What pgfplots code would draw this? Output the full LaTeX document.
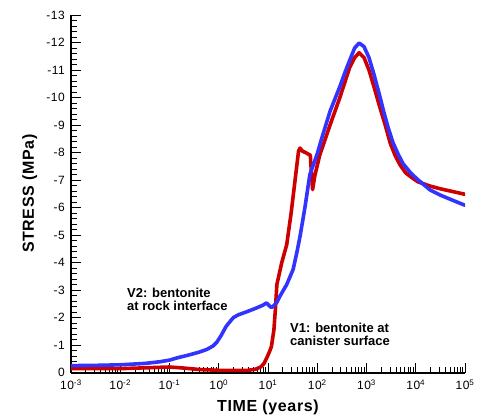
\documentclass[border=0pt]{standalone}
\usepackage{fontspec}
\setmainfont{Liberation Sans}[LetterSpace=4]
\newfontfamily\annofont{Liberation Sans}
\usepackage{pgfplots}
\pgfplotsset{compat=1.18}
\usepackage{pgfplotstable}

\definecolor{canisterred}{RGB}{204,0,0}
\definecolor{rockblue}{RGB}{51,51,255}

% V1: bentonite at canister surface (time in years, stress in MPa)
\pgfplotstableread{
t        stress
0.001    -0.14
0.00316  -0.14
0.01     -0.14
0.0316   -0.17
0.1      -0.20
0.2      -0.16
0.398    -0.11
1        -0.08
3.98     -0.08
5.62     -0.12
7.08     -0.20
8.32     -0.33
9.55     -0.55
10.96    -0.80
11.75    -0.95
13.18    -1.55
14.13    -2.30
15.14    -3.20
19.05    -4.00
23.99    -4.65
29.5     -5.80
35.5     -7.00
41.7     -8.05
44.7     -8.16
50.1     -8.05
60.3     -7.98
72.4     -7.90
75.9     -7.30
80.4     -6.65
89.1     -7.15
112.2    -7.90
182      -9.00
288      -10.00
363      -10.55
457      -11.10
575      -11.45
708      -11.63
891      -11.45
1122     -11.00
1413     -10.40
1862     -9.65
2399     -9.00
3020     -8.35
3802     -7.90
4786     -7.55
6310     -7.25
8913     -7.05
11220    -6.93
19498    -6.78
31623    -6.68
50119    -6.60
100000   -6.48
}\canister

% V2: bentonite at rock interface
\pgfplotstableread{
t        stress
0.001    -0.25
0.00316  -0.26
0.01     -0.28
0.0316   -0.33
0.0631   -0.39
0.1      -0.45
0.141    -0.53
0.251    -0.64
0.398    -0.74
0.575    -0.84
0.759    -0.96
0.912    -1.10
1.122    -1.35
1.413    -1.68
1.82     -1.92
1.995    -2.00
2.512    -2.10
3.72     -2.21
5.89     -2.35
7.94     -2.45
9.33     -2.53
10.7     -2.42
11.75    -2.36
13.5     -2.45
15.1     -2.55
17.8     -2.80
24.0     -3.20
32.4     -3.75
38.9     -4.40
44.7     -4.95
56.2     -6.00
70.8     -7.20
79.4     -7.45
100      -7.95
120.2    -8.45
182      -9.50
288      -10.40
363      -10.90
457      -11.36
575      -11.80
708      -11.98
891      -11.85
1122     -11.45
1413     -10.85
1862     -10.05
2188     -9.55
2754     -8.90
3467     -8.35
4365     -7.95
5495     -7.60
7943     -7.25
11220    -7.00
14125    -6.85
19498    -6.64
31623    -6.45
50119    -6.30
100000   -6.08
}\rockinterface

\begin{document}
\begin{tikzpicture}
\begin{axis}[
  scale only axis,
  width=394pt, height=357.5pt,
  xmode=log, log basis x=10,
  xmin=1e-3, xmax=1e5,
  ymin=-13, ymax=0,
  y dir=reverse,
  axis x line*=bottom,
  axis y line*=left,
  axis line style={black, line width=2pt, -},
  tick align=inside,
  major tick length=10pt,
  minor tick length=6pt,
  tick style={black, line width=1pt},
  xtick={1e-3,1e-2,1e-1,1,1e1,1e2,1e3,1e4,1e5},
  xticklabels={10\textsuperscript{-3},10\textsuperscript{-2},10\textsuperscript{-1},10\textsuperscript{0},10\textsuperscript{1},10\textsuperscript{2},10\textsuperscript{3},10\textsuperscript{4},10\textsuperscript{5}},
  minor xtick={2e-3,3e-3,4e-3,5e-3,6e-3,7e-3,8e-3,9e-3,
               2e-2,3e-2,4e-2,5e-2,6e-2,7e-2,8e-2,9e-2,
               2e-1,3e-1,4e-1,5e-1,6e-1,7e-1,8e-1,9e-1,
               2,3,4,5,6,7,8,9,
               20,30,40,50,60,70,80,90,
               200,300,400,500,600,700,800,900,
               2000,3000,4000,5000,6000,7000,8000,9000,
               20000,30000,40000,50000,60000,70000,80000,90000},
  ytick={-13,-12,-11,-10,-9,-8,-7,-6,-5,-4,-3,-2,-1,0},
  yticklabels={-13,-12,-11,-10,-9,-8,-7,-6,-5,-4,-3,-2,-1,0},
  minor y tick num=4,
  xticklabel style={anchor=base, inner sep=0pt, yshift=-17pt, font=\fontsize{12}{14}\selectfont},
  yticklabel style={anchor=east, inner sep=0pt, xshift=-6pt, font=\fontsize{12}{14}\selectfont},
]
\addplot[canisterred, line width=3.6pt, line join=round, line cap=round] table[x=t, y=stress] {\canister};
\addplot[rockblue, line width=3.6pt, line join=round, line cap=round] table[x=t, y=stress] {\rockinterface};

% base anchor of a two-line node sits on the baseline of its last line
\node[anchor=base west, inner sep=0pt, align=left, font=\annofont\bfseries\fontsize{13}{12.3}\selectfont]
  at (axis cs:0.0137,-2.27) {V2: bentonite\\at rock interface};
\node[anchor=base west, inner sep=0pt, align=left, font=\annofont\bfseries\fontsize{13}{12.3}\selectfont]
  at (axis cs:28.0,-1.0) {V1: bentonite at\\canister surface};

\coordinate (bl) at (axis cs:1e-3,0);
\coordinate (tr) at (axis cs:1e5,-13);
\coordinate (bc) at (axis cs:10,0);
\coordinate (lm) at (axis cs:1e-3,-6.5);
\end{axis}
\node[anchor=base, inner sep=0pt, font=\bfseries\fontsize{16}{18}\selectfont]
  at ([yshift=-38.5pt]bc) {TIME (years)};
\node[anchor=base, rotate=90, inner sep=0pt, font=\bfseries\fontsize{16}{18}\selectfont]
  at ([xshift=-37pt]lm) {STRESS (MPa)};
\pgfresetboundingbox
\path[use as bounding box] ([shift={(-71pt,-42.5pt)}]bl) rectangle ([shift={(16pt,15pt)}]tr);
\end{tikzpicture}
\end{document}
